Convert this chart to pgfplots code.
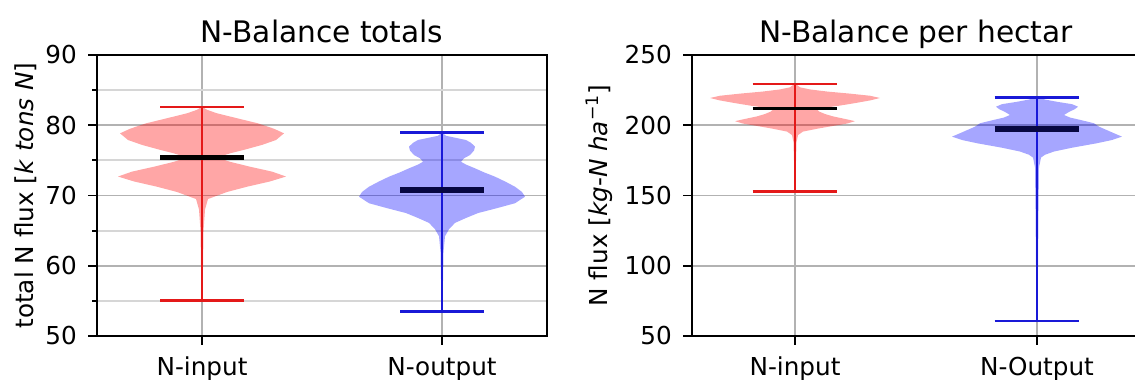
\documentclass[border=0pt]{standalone}
\usepackage{fontspec}
\setmainfont{DejaVu Sans}
\usepackage{pgfplots}
\usepackage{pgfplotstable}
\pgfplotsset{compat=1.18}
\usepgfplotslibrary{fillbetween}
\definecolor{vred}{RGB}{228,25,25}
\definecolor{vblue}{RGB}{25,25,215}

% violin profiles: value y, half width w in pixels
\pgfplotstableread{
y w
55.1 0.5
60 1
65 1.5
68 3
69.5 6
70.5 25
71.25 45
72.0 68
72.7 84
73.4 70
74.1 48
74.8 28
75.4 15
76.0 28
76.5 42
77.2 60
77.9 74
78.85 82
79.5 72
80.27 56
81.0 35
81.7 15
82.2 5
82.6 0.5
}\tLred
\pgfplotstableread{
y w
53.5 0.5
58 1
62 1.5
64.2 3
65.2 7
66.1 13
66.8 24
67.5 36
68.2 55
68.9 73
69.83 83
70.5 80
71.25 73
72.0 63
72.68 53
73.3 42
73.87 33
74.4 24
74.8 19
75.3 22
75.76 28
76.4 32
76.95 33
77.5 29
77.9 24
78.2 14
78.5 4
78.9 0.5
}\tLblue
\pgfplotstableread{
y w
153 0.5
175 1
188 1.5
193 3
195.5 8
197.5 22
199.5 38
201.2 52
202.9 60
204.5 50
206.3 38
208 30
209.8 24
211.2 22
212.5 30
214 45
216 62
217.8 76
219.4 85
221 75
222.5 55
224 32
225.5 15
227 5
229.4 0.5
}\tRred
\pgfplotstableread{
y w
60.7 0.5
100 1
140 1.5
170 2
177 4
179 8
181.3 17
184 35
187.2 60
189.5 75
191.9 85
194 78
196.5 70
199 62
201.4 57
203.5 45
205.5 33
207.3 27
209.5 32
211.5 38
213.2 41
215 35
216.7 20
218.3 8
219.9 0.5
}\tRblue

\pgfplotsset{
  myaxis/.style={
    scale only axis,
    height=113.81pt,
    anchor=south west,
    axis line style={black, line width=0.8pt},
    tick align=outside,
    tick pos=left,
    major tick length=3.5pt,
    minor tick length=2pt,
    every tick/.style={black, line width=0.8pt},
    xtick={1,2},
    xmajorgrids, ymajorgrids,
    major grid style={black!30, line width=0.8pt},
    minor grid style={black!16, line width=0.8pt},
    tick label style={font=\fontsize{10}{12}\selectfont},
    /pgf/number format/assume math mode=true,
    xticklabel style={anchor=base, yshift=-12.3pt, inner sep=0pt},
    yticklabel style={anchor=east, xshift=-4.5pt, inner sep=0pt},
    title style={at={(0.5,1)}, anchor=base, yshift=-1pt, inner sep=0pt, font=\fontsize{12}{14}\selectfont},
    label style={font=\fontsize{10}{12}\selectfont},
    clip=false,
  },
}

\begin{document}
\begin{tikzpicture}

% ---------------- left panel ----------------
\begin{axis}[myaxis,
  at={(39.29pt,17.42pt)},
  width=182.25pt,
  xmin=0.5625, xmax=2.4375,
  ymin=50, ymax=90,
  ytick={50,60,70,80,90},
  minor ytick={55,65,75,85},
  yminorgrids,
  xticklabels={N-input,N-output},
  title={N-Balance totals},
  every axis y label/.style={at={(axis description cs:-0.142,0.5)}, rotate=90, anchor=base},
  ylabel={total N flux [\textit{k} \textit{tons} \textit{N}]},
]
% red violin
\addplot[draw=none, name path=a1] table[x expr=1+\thisrow{w}/240, y=y]{\tLred};
\addplot[draw=none, name path=a2] table[x expr=1-\thisrow{w}/240, y=y]{\tLred};
\addplot[fill=red, fill opacity=0.35, draw=none] fill between[of=a1 and a2];
% blue violin
\addplot[draw=none, name path=b1] table[x expr=2+\thisrow{w}/240, y=y]{\tLblue};
\addplot[draw=none, name path=b2] table[x expr=2-\thisrow{w}/240, y=y]{\tLblue};
\addplot[fill=blue, fill opacity=0.35, draw=none] fill between[of=b1 and b2];
% red lines
\addplot[vred, line width=0.9pt] coordinates {(1,55.1) (1,82.6)};
\addplot[vred, line width=1.1pt] coordinates {(0.825,55.1) (1.175,55.1)};
\addplot[vred, line width=1.1pt] coordinates {(0.825,82.6) (1.175,82.6)};
\addplot[black, line width=2pt] coordinates {(0.825,75.4) (1.175,75.4)};
% blue lines
\addplot[vblue, line width=0.9pt] coordinates {(2,53.5) (2,79.0)};
\addplot[vblue, line width=1.1pt] coordinates {(1.825,53.5) (2.175,53.5)};
\addplot[vblue, line width=1.1pt] coordinates {(1.825,79.0) (2.175,79.0)};
\addplot[black!70!vblue, line width=2.2pt] coordinates {(1.825,70.8) (2.175,70.8)};
\end{axis}

% ---------------- right panel ----------------
\begin{axis}[myaxis,
  at={(280.26pt,17.42pt)},
  width=181.44pt,
  xmin=0.5744, xmax=2.4256,
  ymin=50, ymax=250,
  ytick={50,100,150,200,250},
  xticklabels={N-input,N-Output},
  title={N-Balance per hectar},
  every axis y label/.style={at={(axis description cs:-0.1896,0.5)}, rotate=90, anchor=base},
  ylabel={N flux [\textit{kg}-\textit{N} \textit{ha}\textsuperscript{−1}]},
]
\addplot[draw=none, name path=c1] table[x expr=1+\thisrow{w}/242, y=y]{\tRred};
\addplot[draw=none, name path=c2] table[x expr=1-\thisrow{w}/242, y=y]{\tRred};
\addplot[fill=red, fill opacity=0.35, draw=none] fill between[of=c1 and c2];
\addplot[draw=none, name path=d1] table[x expr=2+\thisrow{w}/242, y=y]{\tRblue};
\addplot[draw=none, name path=d2] table[x expr=2-\thisrow{w}/242, y=y]{\tRblue};
\addplot[fill=blue, fill opacity=0.35, draw=none] fill between[of=d1 and d2];
% red lines
\addplot[vred, line width=0.9pt] coordinates {(1,153) (1,229.4)};
\addplot[vred, line width=1.1pt] coordinates {(0.825,153) (1.175,153)};
\addplot[vred, line width=1.1pt] coordinates {(0.825,229.4) (1.175,229.4)};
\addplot[black, line width=1.2pt] coordinates {(0.825,212) (1.175,212)};
% blue lines
\addplot[vblue, line width=0.9pt] coordinates {(2,60.7) (2,219.9)};
\addplot[vblue, line width=1.1pt] coordinates {(1.825,60.7) (2.175,60.7)};
\addplot[vblue, line width=1.1pt] coordinates {(1.825,219.9) (2.175,219.9)};
\addplot[black!70!vblue, line width=2.2pt] coordinates {(1.825,197.3) (2.175,197.3)};
\end{axis}

\pgfresetboundingbox
\useasboundingbox (0,0) rectangle (459.68pt,153.5pt);
\end{tikzpicture}
\end{document}
